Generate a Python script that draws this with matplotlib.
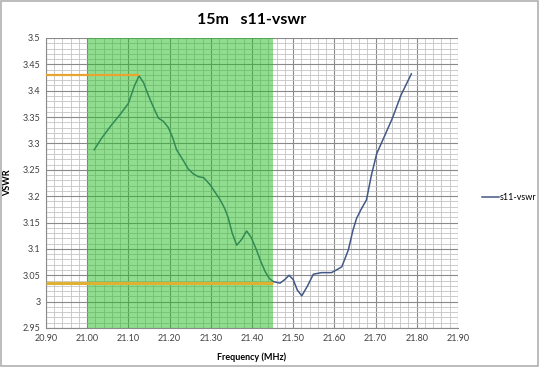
import matplotlib
matplotlib.use("Agg")
import matplotlib.pyplot as plt
from matplotlib.patches import Rectangle
from matplotlib.ticker import MultipleLocator, FuncFormatter

freq = [21.017, 21.035, 21.059, 21.080, 21.100, 21.115, 21.126, 21.137, 21.148, 21.160,
        21.173, 21.185, 21.197, 21.207, 21.217, 21.233, 21.245, 21.258, 21.270, 21.283,
        21.298, 21.310, 21.322, 21.333, 21.342, 21.352, 21.363, 21.375, 21.387, 21.398,
        21.411, 21.422, 21.432, 21.442, 21.452, 21.468, 21.480, 21.490, 21.500, 21.510,
        21.521, 21.535, 21.549, 21.569, 21.593, 21.605, 21.618, 21.634, 21.645, 21.654,
        21.665, 21.678, 21.690, 21.703, 21.723, 21.741, 21.762, 21.787]
vswr = [3.288, 3.310, 3.335, 3.355, 3.376, 3.410, 3.428, 3.415, 3.392, 3.370,
        3.348, 3.342, 3.330, 3.312, 3.288, 3.268, 3.252, 3.242, 3.237, 3.235,
        3.222, 3.208, 3.194, 3.178, 3.160, 3.130, 3.107, 3.118, 3.134, 3.122,
        3.098, 3.075, 3.057, 3.044, 3.038, 3.035, 3.042, 3.050, 3.042, 3.022,
        3.011, 3.030, 3.052, 3.055, 3.055, 3.060, 3.066, 3.098, 3.135, 3.158,
        3.175, 3.193, 3.240, 3.281, 3.316, 3.348, 3.392, 3.432]

band = (21.00, 21.45)
max_level = (3.430, 21.126)
min_level = (3.035, 21.45)

plt.rcParams["font.family"] = ["Lato", "DejaVu Sans"]

fig = plt.figure(figsize=(5.40, 3.67), dpi=100)
fig.patches.append(Rectangle((0.002, 0.003), 0.995, 0.994, transform=fig.transFigure,
                             fill=False, edgecolor="#b0b0b0", linewidth=1.2))
ax = fig.add_axes([0.0852, 0.1063, 0.7628, 0.7902])

ax.plot(freq, vswr, color="#425886", linewidth=1.1, label="s11-vswr", zorder=3)
ax.axvspan(band[0], band[1], color="#23bd23", alpha=0.5, linewidth=0, zorder=4)
ax.hlines(max_level[0], 20.90, max_level[1], color="#e8a430", linewidth=1.6, zorder=5)
ax.hlines(min_level[0], 20.90, min_level[1], color="#e0b030", linewidth=2.2, zorder=5)

ax.set_xlim(20.90, 21.90)
ax.set_ylim(2.95, 3.5)
ax.xaxis.set_major_locator(MultipleLocator(0.1))
ax.xaxis.set_minor_locator(MultipleLocator(0.02))
ax.yaxis.set_major_locator(MultipleLocator(0.05))
ax.yaxis.set_minor_locator(MultipleLocator(0.01))
ax.xaxis.set_major_formatter(FuncFormatter(lambda v, p: f"{v:.2f}"))
ax.yaxis.set_major_formatter(FuncFormatter(lambda v, p: f"{round(v, 2):g}"))
ax.grid(which="major", color="#8a8a8a", linewidth=0.8, zorder=1)
ax.grid(which="minor", color="#c4c4c4", linewidth=0.6, zorder=1)
ax.set_axisbelow(True)
ax.tick_params(which="both", length=0, labelsize=6.5, colors="#404040", pad=4)
for side in ("top", "right"):
    ax.spines[side].set_visible(False)
for side in ("left", "bottom"):
    ax.spines[side].set_color("#8a8a8a")

ax.set_title("15m   s11-vswr", fontsize=11.5, fontweight="bold", pad=10)
ax.set_xlabel("Frequency (MHz)", fontsize=6.5, fontweight="bold", labelpad=7)
ax.set_ylabel("VSWR", fontsize=6.5, fontweight="bold", labelpad=8)
ax.legend(loc="center left", bbox_to_anchor=(1.039, 0.45), frameon=False, fontsize=6.5,
          handlelength=1.9, handletextpad=0.1)

fig.savefig("out.png", dpi=100)
